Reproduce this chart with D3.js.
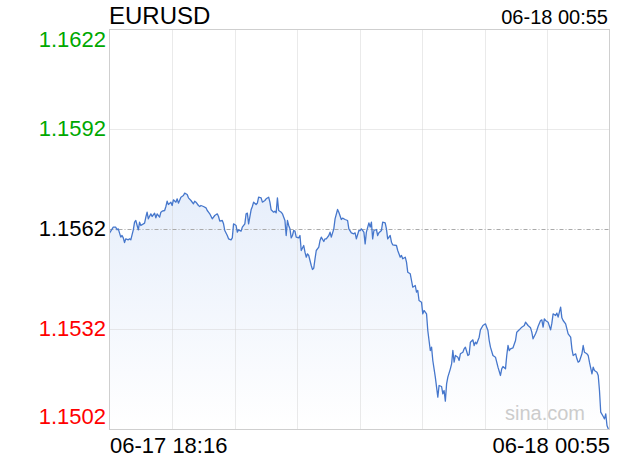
<!DOCTYPE html>
<html><head><meta charset="utf-8">
<script src="https://cdn.jsdelivr.net/npm/d3@7"></script>
<style>html,body{margin:0;padding:0;background:#fff;} svg{display:block;}</style>
</head><body><svg id="chart" width="620" height="460"></svg>
<script>
const title = "EURUSD";
const startLabel = "06-17 18:16";
const endLabel = "06-18 00:55";
const prevClose = 1.1562;
const yTicks = [1.1622, 1.1592, 1.1562, 1.1532, 1.1502];
const totalMinutes = 399;
const xGridDivisions = 8;
const watermark = "sina.com";

// minutes after 06-17 18:16
const minutes = [
0,3,5,6,7,9,10,11,12,13,
15,16,17,19,20,21,23,24,25,28,
29,30,31,33,34,36,37,38,40,41,
42,44,45,46,47,49,50,51,53,54,
55,57,59,60,62,63,65,67,68,69,
71,72,73,75,77,78,79,80,82,84,
86,87,88,90,91,92,94,95,97,98,
99,101,102,103,105,106,108,109,110,111,
113,114,115,117,118,119,121,122,124,125,
127,128,129,131,132,133,134,135,137,138,
140,141,142,143,144,145,146,147,148,149,
151,152,153,155,156,157,158,159,161,162,
163,164,165,167,168,169,171,172,173,175,
176,177,179,180,182,183,185,186,188,190,
191,193,195,196,197,199,200,201,203,204,
205,207,208,209,210,211,213,214,215,217,
218,220,221,222,224,225,226,229,230,232,
233,234,236,237,238,240,241,242,244,245,
246,247,249,250,251,253,254,255,256,257,
258,260,261,262,263,265,266,267,268,269,
270,272,273,274,275,276,278,279,280,282,
283,284,286,287,288,290,291,292,293,295,
296,298,300,301,302,303,304,306,308,309,
310,312,313,314,316,317,318,319,320,322,
324,325,327,329,331,332,334,336,337,338,
340,341,342,344,345,346,347,348,350,352,
353,354,356,357,358,360,361,362,364,365,
366,368,369,370,372,373,374,375,377,378,
379,381,382,383,385,386,387,389,390,391,
392,394,395,396,397,398,399
];

const prices = [
1.15609,1.15627,1.15627,1.15619,1.15622,1.15597,1.15602,1.15595,1.15581,1.15592,
1.15589,1.15592,1.15589,1.15619,1.15642,1.15647,1.15619,1.15642,1.15632,1.15639,
1.15657,1.15672,1.15652,1.15667,1.15659,1.15669,1.15655,1.15667,1.15657,1.15672,
1.15675,1.15677,1.15689,1.15705,1.15695,1.15702,1.15692,1.15709,1.15702,1.15712,
1.15699,1.15717,1.15722,1.15729,1.15725,1.15715,1.15707,1.15697,1.15705,1.15702,
1.15692,1.15689,1.15692,1.15689,1.15685,1.15677,1.15672,1.15667,1.15652,1.15662,
1.15667,1.15659,1.15645,1.15647,1.15637,1.15617,1.15602,1.15592,1.15589,1.15595,
1.15637,1.15632,1.15612,1.15619,1.15615,1.15627,1.15637,1.15667,1.15669,1.15637,
1.15679,1.15689,1.15702,1.15695,1.15699,1.15717,1.15715,1.15702,1.15707,1.15712,
1.15717,1.15702,1.15679,1.15672,1.15675,1.15670,1.15715,1.15677,1.15672,1.15667,
1.15647,1.15602,1.15647,1.15632,1.15622,1.15595,1.15602,1.15617,1.15615,1.15597,
1.15595,1.15602,1.15557,1.15572,1.15552,1.15537,1.15547,1.15542,1.15512,1.15500,
1.15504,1.15532,1.15557,1.15567,1.15587,1.15597,1.15584,1.15592,1.15592,1.15602,
1.15612,1.15597,1.15622,1.15652,1.15680,1.15672,1.15650,1.15654,1.15650,1.15647,
1.15622,1.15610,1.15607,1.15610,1.15592,1.15617,1.15617,1.15622,1.15612,1.15577,
1.15612,1.15640,1.15627,1.15642,1.15592,1.15617,1.15620,1.15602,1.15610,1.15617,
1.15642,1.15640,1.15622,1.15592,1.15602,1.15582,1.15574,1.15572,1.15557,1.15537,
1.15542,1.15532,1.15537,1.15522,1.15492,1.15487,1.15467,1.15447,1.15452,1.15432,
1.15437,1.15407,1.15402,1.15367,1.15377,1.15367,1.15317,1.15287,1.15257,1.15267,
1.15227,1.15177,1.15147,1.15117,1.15152,1.15149,1.15127,1.15137,1.15105,1.15157,
1.15177,1.15202,1.15217,1.15257,1.15222,1.15242,1.15237,1.15227,1.15247,1.15252,
1.15262,1.15267,1.15242,1.15245,1.15282,1.15289,1.15272,1.15282,1.15277,1.15297,
1.15319,1.15332,1.15337,1.15327,1.15317,1.15287,1.15267,1.15242,1.15237,1.15222,
1.15207,1.15182,1.15202,1.15209,1.15202,1.15242,1.15272,1.15257,1.15262,1.15265,
1.15287,1.15312,1.15319,1.15327,1.15332,1.15342,1.15332,1.15325,1.15312,1.15292,
1.15307,1.15317,1.15329,1.15347,1.15349,1.15327,1.15352,1.15347,1.15342,1.15319,
1.15339,1.15367,1.15362,1.15369,1.15357,1.15387,1.15355,1.15347,1.15337,1.15322,
1.15307,1.15297,1.15262,1.15242,1.15247,1.15232,1.15222,1.15225,1.15247,1.15272,
1.15252,1.15247,1.15242,1.15222,1.15187,1.15207,1.15197,1.15192,1.15182,1.15137,
1.15072,1.15059,1.15052,1.15067,1.15032,1.15022,1.15018
];

const FONT = "'Liberation Sans', Arial, Helvetica, sans-serif";
const L = 109.5, R = 609.5, T = 29.5, B = 429.5;

const svg = d3.select("#chart");
const data = d3.zip(minutes, prices).map(([m, p]) => ({m, p}));

const x = d3.scaleLinear().domain([0, totalMinutes]).range([L, R]);
const y = d3.scaleLinear().domain([d3.min(yTicks), d3.max(yTicks)]).range([B, T]);

const defs = svg.append("defs");
const grad = defs.append("linearGradient").attr("id", "areaGrad")
  .attr("gradientUnits", "userSpaceOnUse").attr("x1", 0).attr("x2", 0).attr("y1", T).attr("y2", B);
grad.append("stop").attr("offset", 0).attr("stop-color", "#d6e3f8");
grad.append("stop").attr("offset", 1).attr("stop-color", "#ffffff");
defs.append("clipPath").attr("id", "plotClip").append("rect")
  .attr("x", L).attr("y", T).attr("width", R - L).attr("height", B - T);

// area
svg.append("path").datum(data)
  .attr("clip-path", "url(#plotClip)")
  .attr("fill", "url(#areaGrad)")
  .attr("d", d3.area().x(d => x(d.m)).y0(B).y1(d => y(d.p)));

// vertical grid
const vg = d3.range(1, xGridDivisions).map(i => i * totalMinutes / xGridDivisions);
svg.append("g").selectAll("line").data(vg).join("line")
  .attr("x1", d => Math.round(x(d)) + 0.5).attr("x2", d => Math.round(x(d)) + 0.5)
  .attr("y1", T).attr("y2", B)
  .attr("stroke", "#d4d4d4").attr("stroke-width", 1).attr("stroke-dasharray", "1,1");

// horizontal grid
const hg = yTicks.filter(v => v !== d3.min(yTicks) && v !== d3.max(yTicks));
svg.append("g").selectAll("line").data(hg).join("line")
  .attr("x1", L).attr("x2", R)
  .attr("y1", d => Math.round(y(d) - 0.5) + 0.5).attr("y2", d => Math.round(y(d) - 0.5) + 0.5)
  .attr("stroke", d => d === prevClose ? "#aaaaaa" : "#d4d4d4")
  .attr("stroke-width", 1)
  .attr("stroke-dasharray", d => d === prevClose ? "4,2,1,2" : "1,1");

// line
svg.append("path").datum(data)
  .attr("clip-path", "url(#plotClip)")
  .attr("fill", "none")
  .attr("stroke", "#4677cc")
  .attr("stroke-width", 1.3)
  .attr("stroke-linejoin", "round")
  .attr("d", d3.line().x(d => x(d.m)).y(d => y(d.p)));

// border
svg.append("rect").attr("x", L).attr("y", T).attr("width", R - L).attr("height", B - T)
  .attr("fill", "none").attr("stroke", "#cfcfcf").attr("stroke-width", 1);

// y axis labels
const yAxis = svg.append("g").attr("transform", `translate(${L},0)`)
  .call(d3.axisLeft(y).tickValues(yTicks).tickSize(0).tickPadding(3.5).tickFormat(d3.format(".4f")));
yAxis.select(".domain").remove();
yAxis.selectAll("text")
  .attr("font-family", FONT).attr("font-size", 22)
  .attr("fill", d => d > prevClose ? "#00a800" : (d < prevClose ? "#ff0000" : "#000000"))
  .attr("dy", d => d === d3.max(yTicks) ? "0.78em" : (d === d3.min(yTicks) ? "-0.27em" : "0.26em"));

// x axis labels
const xAxis = svg.append("g").attr("transform", `translate(0,${B})`)
  .call(d3.axisBottom(x).tickValues([0, totalMinutes]).tickSize(0)
    .tickFormat((d, i) => i === 0 ? startLabel : endLabel));
xAxis.select(".domain").remove();
xAxis.selectAll("text")
  .attr("font-family", FONT).attr("font-size", 22).attr("fill", "#000")
  .attr("y", 23).attr("dy", 0)
  .attr("text-anchor", (d, i) => i === 0 ? "start" : "end");

// title & time
svg.append("text").attr("x", 109).attr("y", 24).text(title)
  .attr("font-family", FONT).attr("font-size", 24).attr("fill", "#000");
svg.append("text").attr("x", 608).attr("y", 24).text(endLabel)
  .attr("text-anchor", "end")
  .attr("font-family", FONT).attr("font-size", 20).attr("fill", "#000");

// watermark
svg.append("text").attr("x", 585).attr("y", 420).text(watermark)
  .attr("text-anchor", "end")
  .attr("font-family", FONT).attr("font-size", 20).attr("fill", "#cccccc");
</script>
</body></html>
